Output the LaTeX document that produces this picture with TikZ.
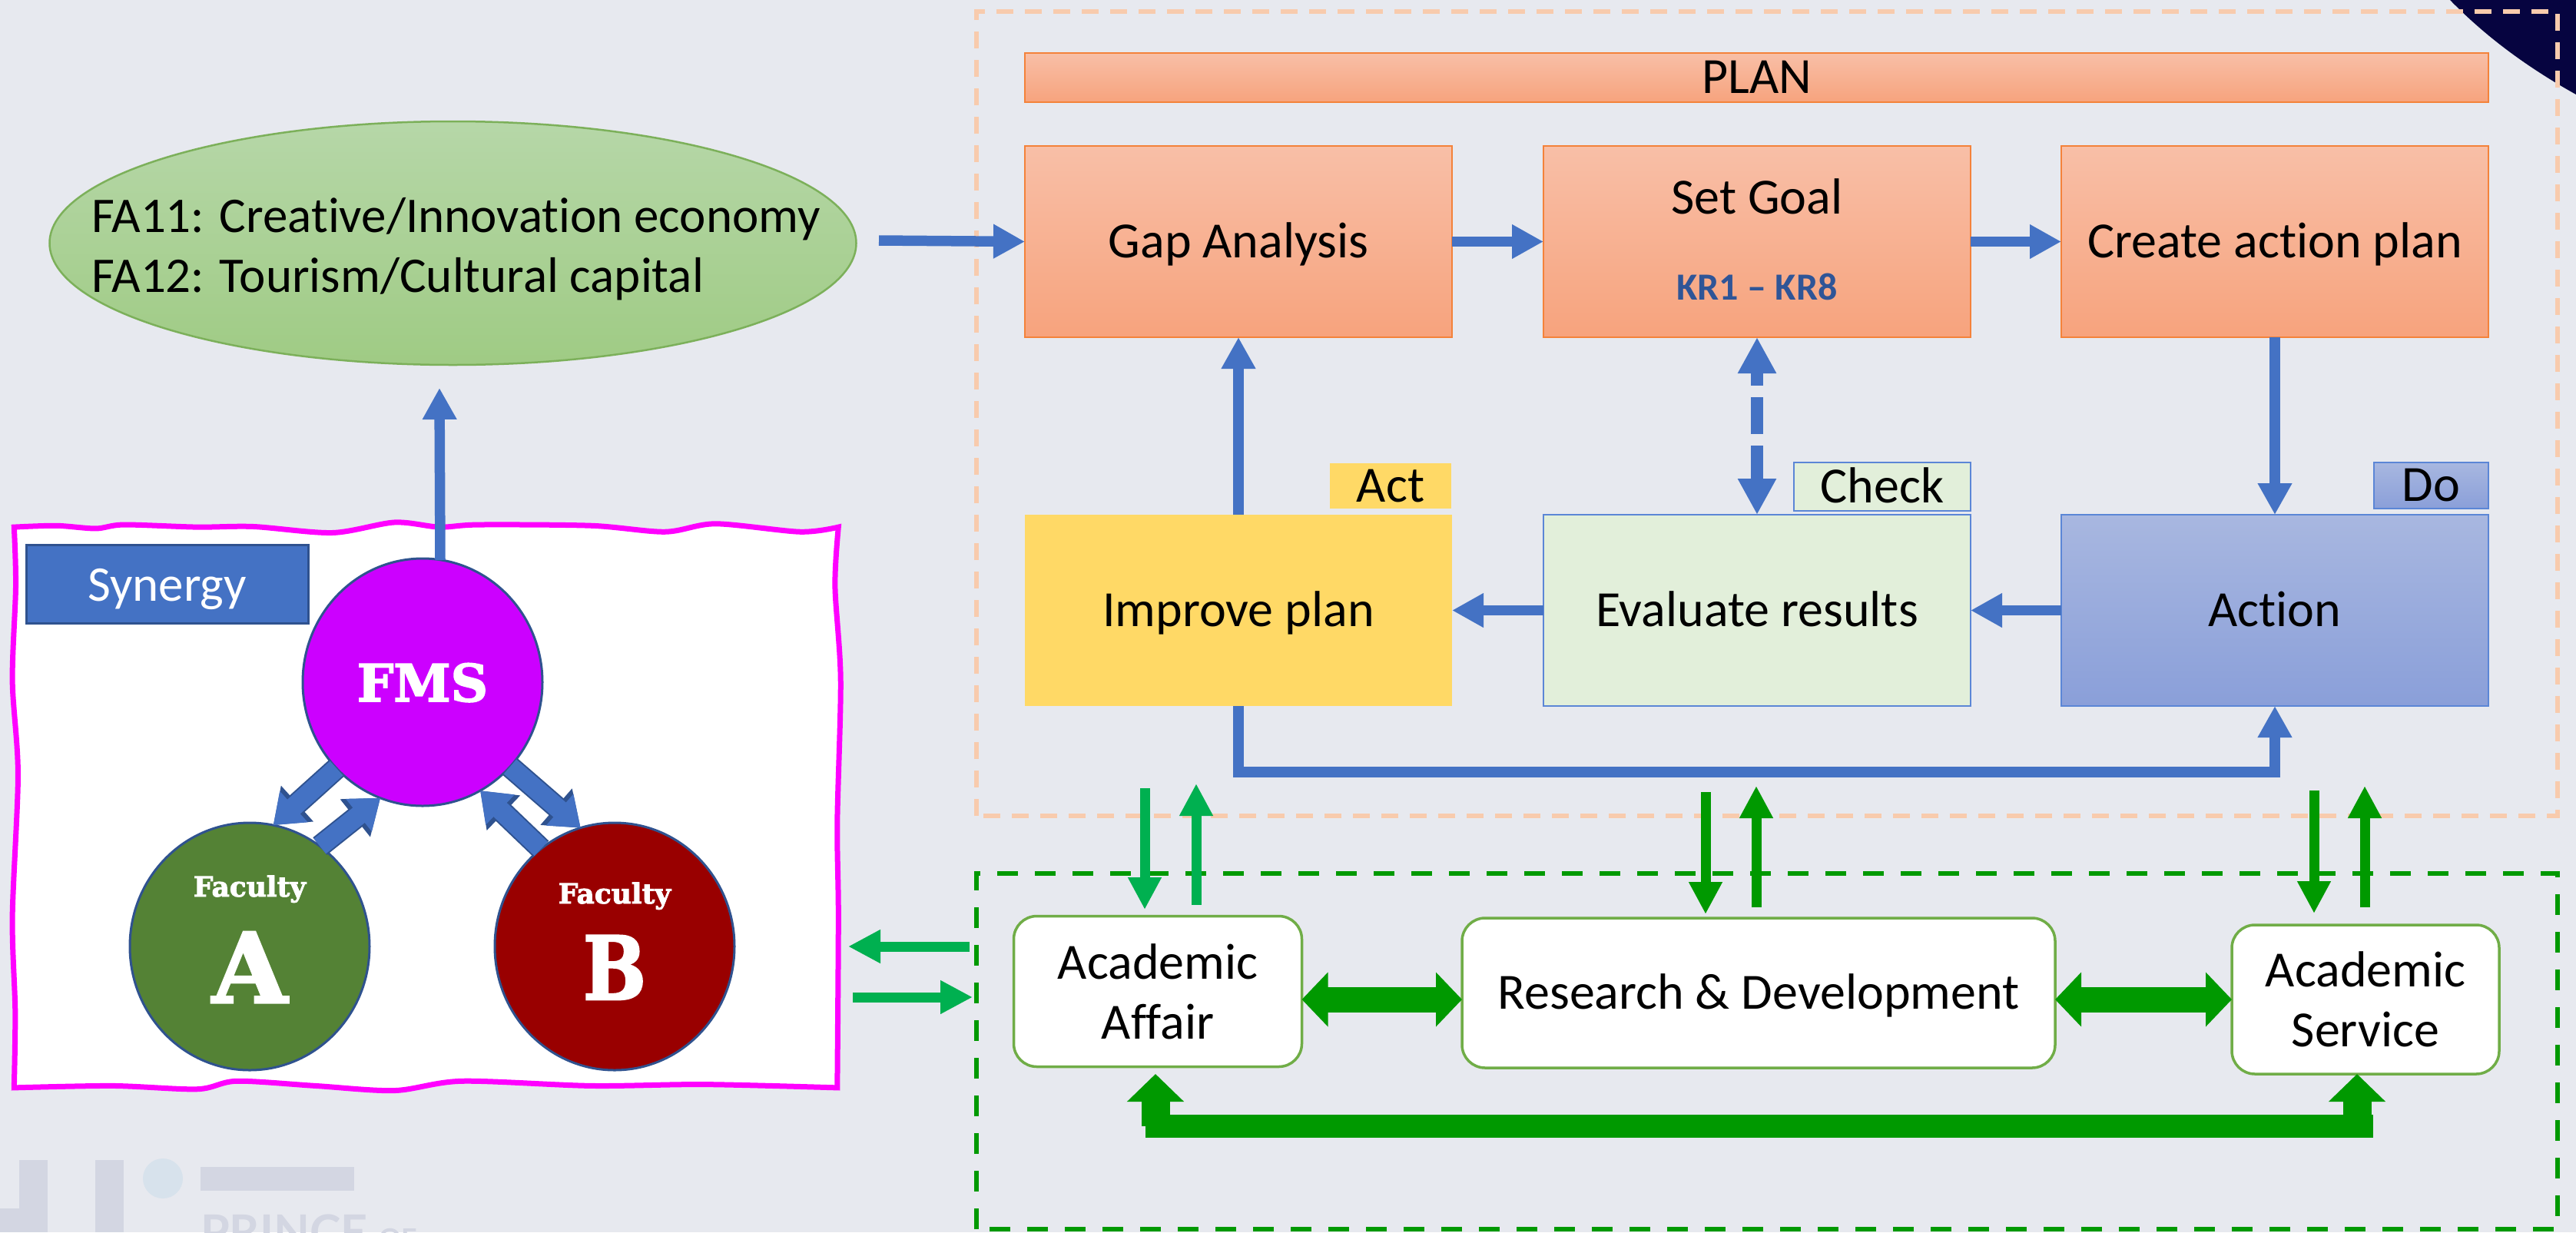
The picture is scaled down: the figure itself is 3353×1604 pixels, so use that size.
\documentclass[tikz,border=0pt]{standalone}
\usepackage{graphicx}
\usepackage{fontspec}
\setmainfont[Ligatures=NoCommon]{Carlito}
\newfontfamily\slabfont[BoldFeatures={FakeBold=2.5}]{DejaVu Serif}
\newfontfamily\markfont{Lato}
\usetikzlibrary{arrows.meta,calc,shapes.geometric}
\definecolor{bgc}{HTML}{E7E9EF}
\definecolor{bluec}{HTML}{4472C4}
\definecolor{blued}{HTML}{2F528F}
\definecolor{orline}{HTML}{F4823A}
\definecolor{ortop}{HTML}{F8BFA7}
\definecolor{orbot}{HTML}{F7A37D}
\definecolor{dashor}{HTML}{F8CBAD}
\definecolor{grn}{HTML}{009900}
\definecolor{grnb}{HTML}{00B050}
\definecolor{grbox}{HTML}{70AD47}
\definecolor{pale}{HTML}{E2EFDA}
\definecolor{boxbl}{HTML}{5B86D6}
\definecolor{acttop}{HTML}{A8B7E0}
\definecolor{actbot}{HTML}{8A9FD9}
\definecolor{yel}{HTML}{FFD966}
\definecolor{navy}{HTML}{060440}
\definecolor{wm}{HTML}{D3D6E2}
\definecolor{wmb}{HTML}{D7E2EC}
\definecolor{krc}{HTML}{2F5597}
\definecolor{ellt}{HTML}{B6D7A8}
\definecolor{ellb}{HTML}{9FCB84}
\definecolor{ellline}{HTML}{7CB05A}
\definecolor{fmsc}{HTML}{CC00FF}
\definecolor{facA}{HTML}{548235}
\definecolor{facB}{HTML}{990000}
\definecolor{pinkf}{HTML}{FF00FF}
\tikzset{
  x=1pt,y=-1pt,
  bigfont/.style={font=\fontsize{66}{78}\selectfont},
  txtcap/.style={bigfont,text height=41pt,text depth=0pt,inner sep=0pt,outer sep=0pt},
  oranges/.style={rectangle,draw=orline,line width=2.5pt,top color=ortop,bottom color=orbot,
    minimum width=556pt,minimum height=249pt,txtcap},
  paleb/.style={rectangle,draw=boxbl,line width=2.5pt,fill=pale,txtcap},
  blueb/.style={rectangle,draw=boxbl,line width=2.5pt,top color=acttop,bottom color=actbot,txtcap},
  yelb/.style={rectangle,fill=yel,txtcap},
  roundb/.style={rectangle,rounded corners=30pt,draw=grbox,line width=3.5pt,fill=white,
    bigfont,align=center,inner sep=0pt,outer sep=0pt},
  disc/.style={ellipse,draw=blued,line width=3pt,minimum width=312pt,minimum height=322pt,inner sep=0pt,outer sep=0pt},
  slab/.style={text=white,inner sep=0pt,anchor=base},
  barrow/.style={draw=bluec,line width=13.5pt,-{Triangle[width=42pt,length=41pt]}},
  blockarrow/.style={draw=bluec,line width=25pt,-{Triangle[width=52pt,length=36pt]},
    preaction={draw=blued,line width=29pt,-{Triangle[width=60pt,length=42pt]}}},
  garrow/.style={line width=13pt,-{Triangle[width=41pt,length=42pt]}},
  harrow/.style={draw=grn,line width=33pt,{Triangle[width=69pt,length=34pt]}-{Triangle[width=69pt,length=34pt]}},
  uparrow/.style={draw=grn,line width=37pt,-{Triangle[width=72pt,length=36pt]}},
}
\begin{document}
\begin{tikzpicture}
\useasboundingbox (0,0) rectangle (3353,1604);
\fill[bgc] (0,0) rectangle (3353,1604);
% watermark
\fill[wm] (25,1604) -- (25,1573) -- (0,1573) -- (0,1604) -- cycle;
\fill[wm] (25,1510) rectangle (62,1604);
\fill[wm] (124,1510) rectangle (161,1604);
\fill[wmb] (212,1534) circle[radius=26];
\fill[wm] (261,1519) rectangle (461,1550);
\node[anchor=base west,inner sep=0pt,text=wm] (markname) at (261,1625)
  {\markfont\bfseries\fontsize{61}{64}\selectfont PRINCE {\fontsize{36}{40}\selectfont OF}};
% corner
\fill[navy] (3189,0) .. controls (3233,45) and (3285,85) .. (3353,123) -- (3353,0) -- cycle;
% panels
\draw[dashor,line width=6pt,dash pattern=on 22pt off 15pt] (1271,1062) -- (1271,15) -- (3329,15) -- (3329,1062) -- cycle;
\draw[grn,line width=6pt,dash pattern=on 27pt off 22pt] (1271,1600) -- (1271,1137) -- (3329,1137) -- (3329,1600) -- cycle;
% synergy frame
\begin{scope}[shift={(0,640)},x=0.7334pt,y=-0.6148pt]
\draw[draw=pinkf,line width=7pt,fill=white,line join=miter]
  plot[smooth,tension=0.5] coordinates {(25,75) (100,72) (170,78) (220,70) (350,75) (450,74) (590,87) (700,65) (780,75) (850,70) (1050,72) (1180,85) (1270,68) (1420,85) (1488,75)}
  -- plot[smooth,tension=0.5] coordinates {(1488,75) (1482,200) (1492,400) (1486,700) (1488,900) (1486,1262)}
  -- plot[smooth,tension=0.5] coordinates {(1486,1262) (1250,1255) (1050,1258) (820,1248) (700,1268) (560,1258) (420,1248) (350,1265) (200,1258) (25,1262)}
  -- plot[smooth,tension=0.5] coordinates {(25,1262) (27,1100) (22,900) (32,600) (22,400) (28,200) (25,75)} -- cycle;
\end{scope}
% plan nodes
\node[oranges,minimum width=1905pt,minimum height=64pt] (plan) at (2286.5,101) {PLAN};
\node[oranges] (gap) at (1612,314.5) {Gap Analysis};
\node[oranges] (goal) at (2287,314.5) {};
\node[anchor=base,bigfont,inner sep=0pt] (goaltext) at (2287,278) {Set Goal};
\node[anchor=base,inner sep=0pt,text=krc,font=\fontsize{50}{54}\selectfont\bfseries] (goalkr) at (2287,390) {KR1 – KR8};
\node[oranges] (create) at (2961,314.5) {Create action plan};
\node[yelb,minimum width=556pt,minimum height=249pt] (improve) at (1612,794.5) {Improve plan};
\node[paleb,minimum width=556pt,minimum height=249pt] (evaluate) at (2287,794.5) {Evaluate results};
\node[blueb,minimum width=556pt,minimum height=249pt] (action) at (2961,794.5) {Action};
\node[yelb,minimum width=158pt,minimum height=59pt] (act) at (1810,632.5) {Act};
\node[paleb,minimum width=230pt,minimum height=63pt] (check) at (2450,633.5) {Check};
\node[blueb,minimum width=149pt,minimum height=60pt] (do) at (3164.5,632) {Do};
% ellipse
\node[ellipse,draw=ellline,line width=2.5pt,top color=ellt,bottom color=ellb,minimum width=1050pt,minimum height=317pt,inner sep=0pt,outer sep=0pt] (focus) at (589.5,316.5) {};
\node[anchor=base west,inner sep=0pt,font=\fontsize{65}{78}\selectfont] (fa11) at (119,302) {FA11: Creative/Innovation economy};
\node[anchor=base west,inner sep=0pt,font=\fontsize{65}{78}\selectfont] (fa12) at (119,380) {FA12: Tourism/Cultural capital};
% synergy contents
\node[rectangle,draw=blued,line width=3pt,fill=bluec,text=white,minimum width=367pt,minimum height=102pt,inner sep=0pt,text height=44pt,text depth=0pt,font=\fontsize{65}{70}\selectfont] (syn) at (217.5,760) {Synergy};
\node[disc,fill=fmsc] (fms) at (550,888) {};
\node[disc,fill=facA] (fa) at (325,1232) {};
\node[disc,fill=facB] (fb) at (800,1232) {};
\node[slab,font=\slabfont\bfseries\fontsize{67}{70}\selectfont] (fmst) at (550,913) {FMS};
\node[slab,font=\slabfont\bfseries\fontsize{36}{40}\selectfont] (fat) at (325,1167) {Faculty};
\node[slab,font=\slabfont\bfseries\fontsize{126}{130}\selectfont] (faa) at (325,1305) {A};
\node[slab,font=\slabfont\bfseries\fontsize{36}{40}\selectfont] (fbt) at (800,1176) {Faculty};
\node[slab,font=\slabfont\bfseries\fontsize{114}{118}\selectfont] (fbb) at (800,1301) {\scalebox{.85}[1]{B}};
% green boxes
\node[roundb,minimum width=375pt,minimum height=196pt] (aa) at (1507,1290.5) {Academic\\Affair};
\node[roundb,minimum width=772pt,minimum height=195pt,text height=41pt,text depth=0pt] (rd) at (2289,1292.5) {Research \& Development};
\node[roundb,minimum width=348pt,minimum height=194pt] (as) at (3079,1301) {Academic\\Service};
% blue connectors
\coordinate (faout) at (1144,313);
\coordinate (fmsup) at (572,505);
\draw[barrow] (faout) -- (gap.west);
\draw[barrow] (gap.east) -- (goal.west);
\draw[barrow] (goal.east) -- (create.west);
\draw[barrow] (create.south) -- (action.north);
\draw[barrow] (action.west) -- (evaluate.east);
\draw[barrow] (evaluate.west) -- (improve.east);
\draw[barrow] (improve.north) -- (gap.south);
\draw[draw=bluec,line width=15.5pt,dash pattern=on 48pt off 15pt,dash phase=29pt,{Triangle[width=47pt,length=47pt]}-{Triangle[width=47pt,length=47pt]}] (goal.south) -- (evaluate.north);
\coordinate (turn) at (2961,1005);
\draw[barrow,line join=miter] (improve.south) |- (turn) -- (action.south);
\draw[barrow] ($(fms.north)+(23,2)$) -- (fmsup);
% block arrows
\draw[blockarrow] (fms.225) -- (fa.79);
\draw[blockarrow] (fa.55) -- (fms.250);
\draw[blockarrow] (fms.-44) -- (fb.106);
\draw[blockarrow] (fb.127) -- (fms.-62);
% green side arrows
\coordinate (s1a) at (1262,1232); \coordinate (s1b) at (1104,1232);
\coordinate (s2a) at (1110,1298); \coordinate (s2b) at (1266,1298);
\draw[garrow,draw=grnb] (s1a) -- (s1b);
\draw[garrow,draw=grnb] (s2a) -- (s2b);
% vertical green arrows
\coordinate (v1a) at (1490,1026); \coordinate (v1b) at (1490,1184);
\coordinate (v2a) at (1557,1178); \coordinate (v2b) at (1557,1020);
\coordinate (v3a) at (2220,1031); \coordinate (v3b) at (2220,1190);
\coordinate (v4a) at (2286,1181); \coordinate (v4b) at (2286,1023);
\coordinate (v5a) at (3012,1029); \coordinate (v5b) at (3012,1189);
\coordinate (v6a) at (3078,1181); \coordinate (v6b) at (3078,1023);
\draw[garrow,draw=grnb] (v1a) -- (v1b);
\draw[garrow,draw=grnb] (v2a) -- (v2b);
\draw[garrow,draw=grn] (v3a) -- (v3b);
\draw[garrow,draw=grn] (v4a) -- (v4b);
\draw[garrow,draw=grn] (v5a) -- (v5b);
\draw[garrow,draw=grn] (v6a) -- (v6b);
% horizontal double arrows
\coordinate (h1) at (aa.east|-0,1301); \coordinate (h2) at (rd.west|-0,1301);
\coordinate (h3) at (rd.east|-0,1301); \coordinate (h4) at (as.west|-0,1301);
\draw[harrow] (h1) -- (h2);
\draw[harrow] (h3) -- (h4);
% bottom link
\coordinate (b1) at (1491,1465.5); \coordinate (b2) at (3089,1465.5);
\coordinate (u1a) at (1504,1466); \coordinate (u1b) at (1504,1398);
\coordinate (u2a) at (3068,1466); \coordinate (u2b) at (3068,1398);
\draw[draw=grn,line width=30pt] (b1) -- (b2);
\draw[uparrow] (u1a) -- (u1b);
\draw[uparrow] (u2a) -- (u2b);
\end{tikzpicture}
\end{document}
